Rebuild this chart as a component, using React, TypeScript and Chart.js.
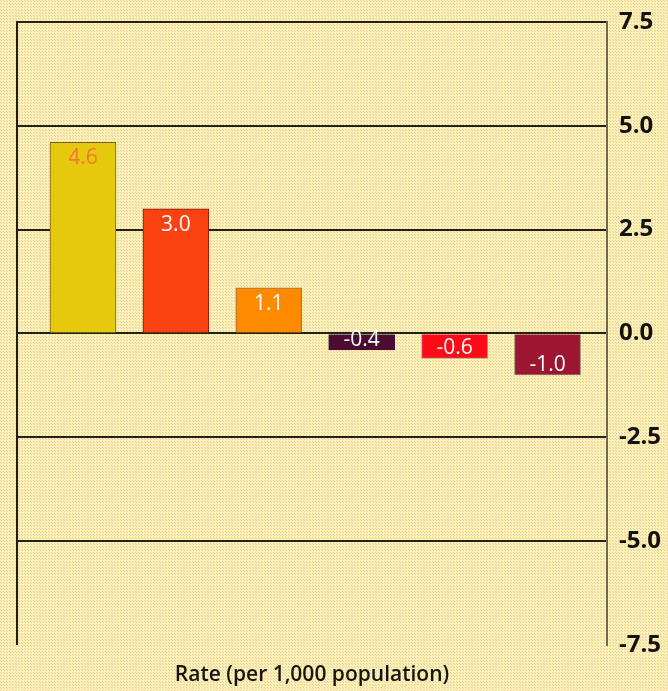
import React, { useEffect, useRef } from "react";
import { Chart, registerables } from "chart.js";

Chart.register(...registerables);

const categories = ["1", "2", "3", "4", "5", "6"];
const rates = [4.6, 3.0, 1.1, -0.4, -0.6, -1.0];
const barColors = ["#e6c80c", "#fa4210", "#ff8a00", "#4a0c30", "#ff0a16", "#9c1632"];
const barBorders = ["#6e6424", "#7a1a10", "#8a7050", "#4a0c30", "#a09080", "#8a8070"];
const labelColors = ["#f07a30", "#ffffff", "#ffffff", "#ffffff", "#ffffff", "#ffffff"];
const yTicks = [7.5, 5.0, 2.5, 0.0, -2.5, -5.0, -7.5];
const xTitle = "Rate (per 1,000 population)";

function makePattern(ctx: CanvasRenderingContext2D) {
  const c = document.createElement("canvas");
  c.width = 3;
  c.height = 3;
  const p = c.getContext("2d")!;
  p.fillStyle = "#fcf0b6";
  p.fillRect(0, 0, 3, 3);
  p.fillStyle = "#f4c8a6";
  p.fillRect(0, 0, 1, 1);
  p.fillStyle = "#d9d6a6";
  p.fillRect(1, 1, 1, 1);
  p.fillStyle = "#fef6a0";
  p.fillRect(2, 2, 1, 1);
  return ctx.createPattern(c, "repeat");
}

const bgPlugin = {
  id: "bgTexture",
  beforeDraw(chart: any) {
    const ctx = chart.ctx as CanvasRenderingContext2D;
    ctx.save();
    const pat = makePattern(ctx);
    ctx.fillStyle = pat || "#f9ebb0";
    ctx.fillRect(0, 0, chart.width, chart.height);
    ctx.restore();
  },
};

const barLabelPlugin = {
  id: "barLabels",
  afterDatasetsDraw(chart: any) {
    const ctx = chart.ctx as CanvasRenderingContext2D;
    const meta = chart.getDatasetMeta(0);
    ctx.save();
    ctx.font = "500 21px 'Open Sans'";
    ctx.textAlign = "center";
    ctx.textBaseline = "middle";
    meta.data.forEach((bar: any, i: number) => {
      const v = rates[i];
      const y = v >= 0 ? bar.y + 16 : bar.y - 10;
      ctx.fillStyle = labelColors[i];
      ctx.fillText(v.toFixed(1), bar.x, y);
    });
    ctx.restore();
  },
};

export default function App() {
  const ref = useRef<HTMLCanvasElement>(null);
  useEffect(() => {
    if (!ref.current) return;
    const chart = new Chart(ref.current, {
      type: "bar",
      data: {
        labels: categories,
        datasets: [
          {
            data: rates.map((v, i) => ({ x: i, y: v })) as any,
            backgroundColor: barColors,
            borderColor: barBorders,
            borderWidth: 1,
            barThickness: 66,
            yAxisID: "y",
          },
        ],
      },
      options: {
        animation: false,
        responsive: false,
        maintainAspectRatio: false,
        layout: { padding: { left: 17, right: 1, top: 22, bottom: 3 } },
        plugins: { legend: { display: false }, tooltip: { enabled: false } },
        scales: {
          x: {
            type: "linear",
            offset: false,
            min: -0.71,
            max: 5.64,
            grid: { display: false, drawTicks: false },
            border: { display: false },
            ticks: { display: false },
            title: {
              display: true,
              text: xTitle,
              color: "#151515",
              font: { family: "'Open Sans'", size: 21, weight: 600 as any },
              padding: { top: 18, bottom: 0 },
            },
          },
          y: {
            position: "right",
            min: -7.5,
            max: 7.5,
            afterBuildTicks: (s: any) => {
              s.ticks = yTicks.map((v) => ({ value: v }));
            },
            afterFit: (s: any) => {
              s.width = 60;
              s.paddingTop = 0;
              s.paddingBottom = 0;
            },
            grid: {
              drawTicks: false,
              lineWidth: 2,
              color: (c: any) => (c.tick && c.tick.value === -7.5 ? "rgba(0,0,0,0)" : "#22221a"),
            },
            border: { display: true, color: "#6e6a50", width: 2 },
            ticks: {
              padding: 12,
              color: "#111111",
              font: { family: "'Open Sans'", size: 24, weight: 700 as any },
              callback: (v: any) => Number(v).toFixed(1),
            },
          },
          y2: {
            position: "left",
            min: -7.5,
            max: 7.5,
            grid: { display: false, drawTicks: false },
            border: { display: true, color: "#1e1e16", width: 2 },
            ticks: { display: false },
          },
        },
      },
      plugins: [bgPlugin, barLabelPlugin],
    });
    return () => chart.destroy();
  }, []);
  return (
    <div style={{ position: "absolute", left: 0, top: 0, width: 668, height: 691 }}>
      <canvas ref={ref} width={668} height={691} style={{ width: 668, height: 691, display: "block" }} />
    </div>
  );
}
